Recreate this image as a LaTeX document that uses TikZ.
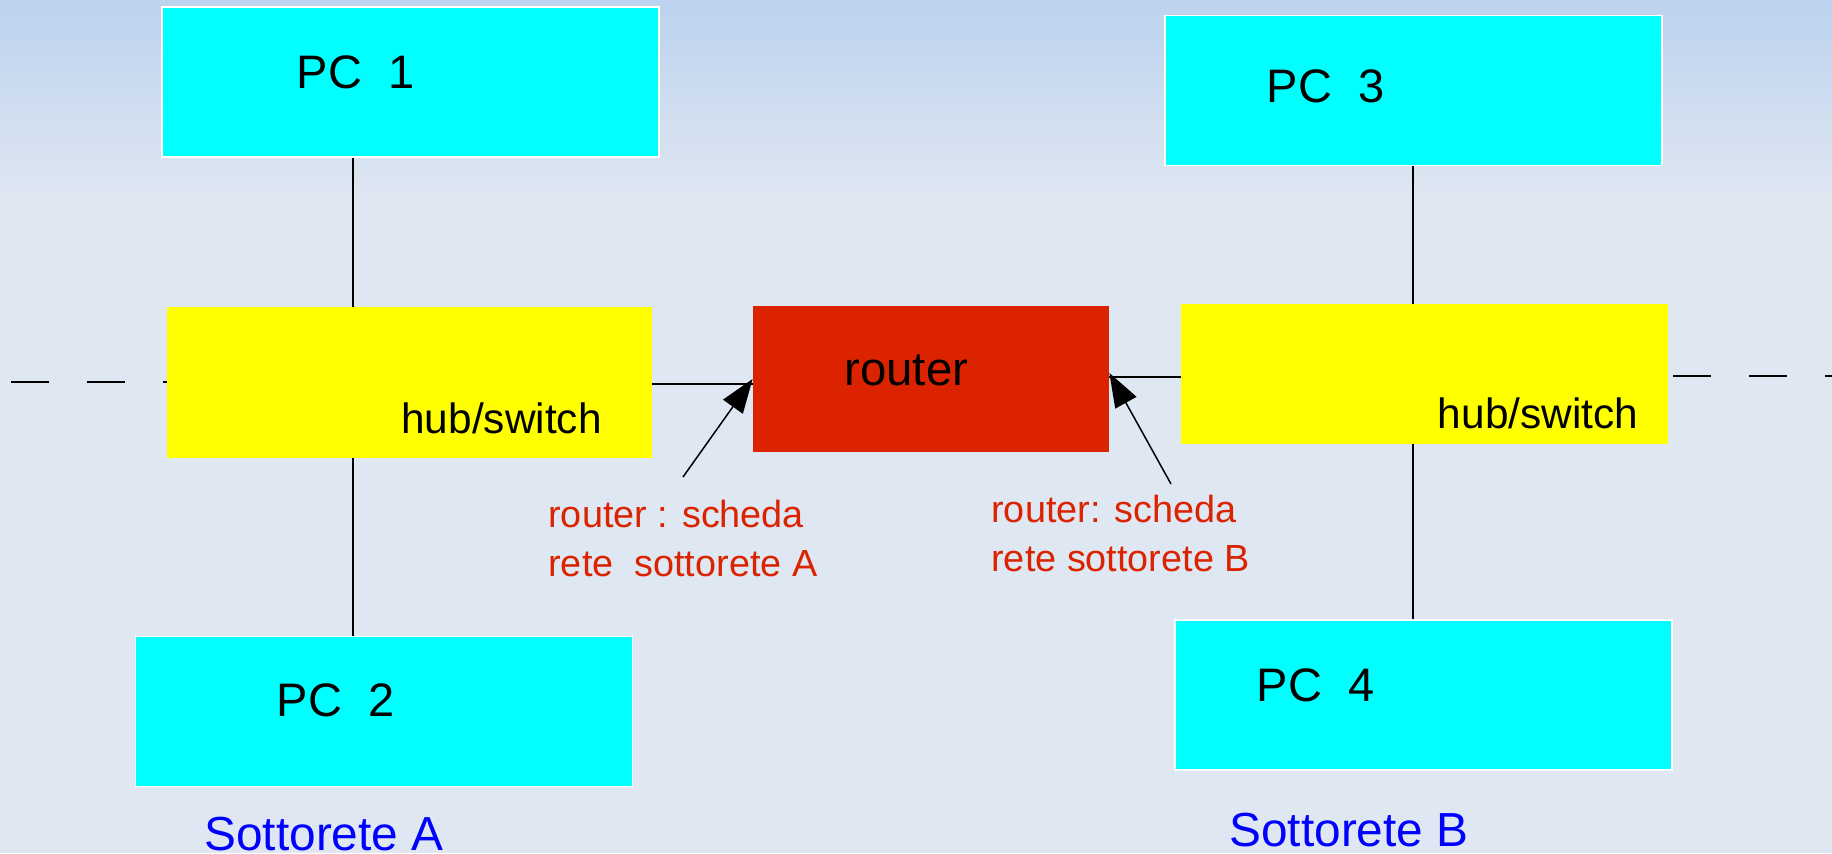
\documentclass[tikz,border=0pt]{standalone}
\usepackage{fontspec}
\setmainfont{Liberation Sans}
\usetikzlibrary{arrows.meta,positioning,calc}
\definecolor{bgtop}{HTML}{BCD2EE}
\definecolor{bgbot}{HTML}{DFE7F2}
\definecolor{pccyan}{HTML}{00FFFF}
\definecolor{hubyellow}{HTML}{FFFF00}
\definecolor{routerred}{HTML}{DC2300}
\definecolor{netblue}{HTML}{0000FF}
\tikzset{pcbox/.style={fill=pccyan,draw=white,line width=0.6pt,inner sep=0pt,
  minimum width=248.5pt,minimum height=75pt},
  hubbox/.style={fill=hubyellow,inner sep=0pt},
  txt/.style={anchor=base west,inner sep=0pt,font=\fontsize{23.5}{28}\selectfont},
  note/.style={anchor=base west,inner sep=0pt,align=left,text=routerred,
  font=\fontsize{18.9}{24.5}\selectfont},
  wire/.style={draw=black,line width=0.75pt},
  lan/.style={wire,dash pattern=on 19pt off 19pt},
  pointer/.style={-{Triangle[length=17pt,width=12pt]},line width=0.75pt}}
\begin{document}
\begin{tikzpicture}[x=0.5pt,y=-0.5pt]
% sfondo
\shade[top color=bgtop,bottom color=bgbot] (0,0) rectangle (1832,200);
\fill[bgbot] (0,200) rectangle (1832,853);
\useasboundingbox (0,0) rectangle (1832,853);
% computer e apparati
\node[pcbox] (pc1) at (410.5,82) {};
\node[pcbox] (pc3) at (1413.5,90.5) {};
\node[pcbox] (pc2) at (384,711.5) {};
\node[pcbox] (pc4) at (1423.5,695) {};
\node[hubbox,minimum width=242.5pt,minimum height=75.5pt] (hubA) at (409.5,382.5) {};
\node[hubbox,minimum width=243.5pt,minimum height=70pt] (hubB) at (1424.5,374) {};
\node[fill=routerred,inner sep=0pt,minimum width=178pt,minimum height=73pt] (router) at (931,379) {};
% testi
\node[txt] (pc1txt) at (296.5,88) {PC\ \ 1};
\node[txt] (pc3txt) at (1266.5,102) {PC\ \ 3};
\node[txt] (pc2txt) at (276.5,716) {PC\ \ 2};
\node[txt] (pc4txt) at (1256.5,701) {PC\ \ 4};
\node[txt,font=\fontsize{21.2}{25}\selectfont] (hubAtxt) at (401,433) {hub/switch};
\node[txt,font=\fontsize{21.2}{25}\selectfont] (hubBtxt) at (1437.5,428) {hub/switch};
\node[txt,font=\fontsize{23.7}{28}\selectfont] (routertxt) at (844,385) {router};
\node[note] (noteA) at (548,576) {router : scheda\\rete\ \ sottorete A};
\node[note] (noteB) at (991,571) {router: scheda\\rete sottorete B};
\node[txt,text=netblue,font=\fontsize{23.9}{28}\selectfont] (subA) at (204,850) {Sottorete A};
\node[txt,text=netblue,font=\fontsize{23.9}{28}\selectfont] (subB) at (1229,846) {Sottorete B};
% collegamenti
\coordinate (busA) at (353,0); \coordinate (busB) at (1413,0);
\coordinate (linkA) at (0,384); \coordinate (linkB) at (0,377);
\coordinate (lanL) at (11,382); \coordinate (lanR) at (1832,376);
\draw[wire] (pc1.south -| busA) -- (hubA.north -| busA);
\draw[wire] (hubA.south -| busA) -- (pc2.north -| busA);
\draw[wire] (pc3.south -| busB) -- (hubB.north -| busB);
\draw[wire] (hubB.south -| busB) -- (pc4.north -| busB);
\draw[wire] (hubA.east |- linkA) -- (router.west |- linkA);
\draw[wire] (router.east |- linkB) -- (hubB.west |- linkB);
\draw[lan] (lanL) -- (lanL -| hubA.west);
\draw[lan,dash phase=35.5pt] (hubB.east |- lanR) -- (lanR);
% schede di rete
\coordinate (tailA) at (683,477); \coordinate (tailB) at (1171,484);
\draw[pointer] (tailA) -- (router.west);
\draw[pointer] (tailB) -- ([yshift=3pt]router.east);
\end{tikzpicture}
\end{document}
